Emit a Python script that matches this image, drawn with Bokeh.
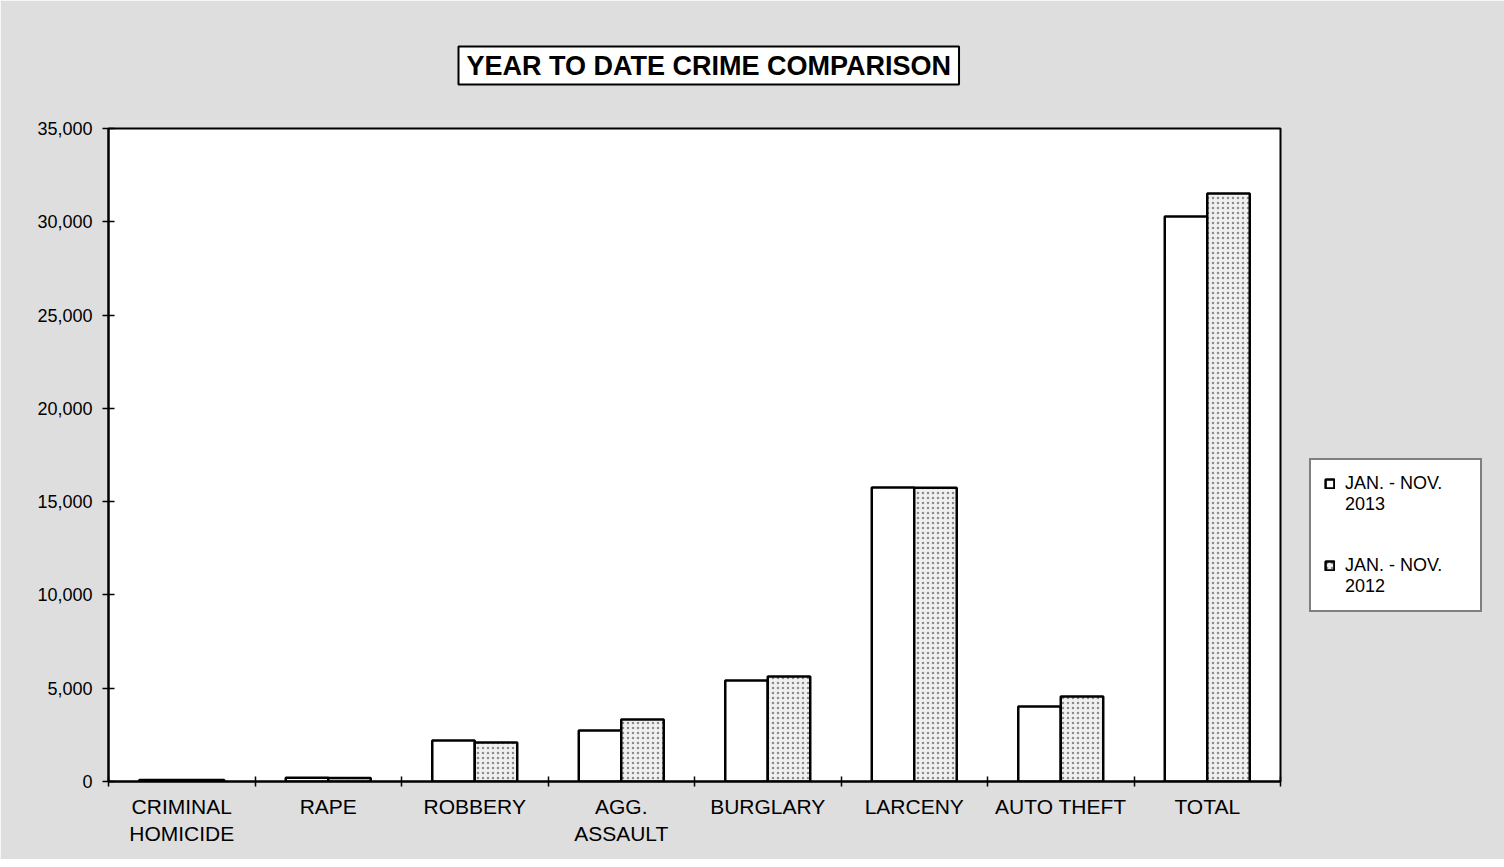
from bokeh.plotting import figure
from bokeh.models import (ColumnDataSource, FixedTicker, NumeralTickFormatter, Legend,
                          LegendItem, Range1d, LinearAxis)
from bokeh.embed import file_html
from bokeh.resources import INLINE

categories = ["CRIMINAL\nHOMICIDE", "RAPE", "ROBBERY", "AGG.\nASSAULT",
              "BURGLARY", "LARCENY", "AUTO THEFT", "TOTAL"]
ytd_2013 = [75, 200, 2200, 2730, 5410, 15760, 4020, 30280]
ytd_2012 = [80, 190, 2090, 3320, 5630, 15750, 4560, 31520]
series_period = "JAN. - NOV."
series_years = ["2013", "2012"]
y_ticks = [0, 5000, 10000, 15000, 20000, 25000, 30000, 35000]
title_text = "YEAR TO DATE CRIME COMPARISON"

FONT = "Liberation Sans"
BG = "#dedede"
BAR_W = 0.29

n = len(categories)
centers = [i + 0.5 for i in range(n)]
src13 = ColumnDataSource(dict(x=[c - BAR_W / 2 for c in centers], top=ytd_2013))
src12 = ColumnDataSource(dict(x=[c + BAR_W / 2 for c in centers], top=ytd_2012))

p = figure(frame_width=1172, frame_height=653, output_backend="svg", toolbar_location=None,
           x_range=Range1d(0, n), y_range=Range1d(0, 35000),
           min_border_left=108, min_border_right=216, min_border_top=128, min_border_bottom=78,
           x_axis_type=None, y_axis_type=None, title=title_text)
p.border_fill_color = BG
p.background_fill_color = "white"
p.outline_line_color = "black"
p.outline_line_width = 2
p.xgrid.visible = False
p.ygrid.visible = False

# boxed title
p.title.text_font = FONT
p.title.text_font_size = "27px"
p.title.text_font_style = "bold"
p.title.text_color = "black"
p.title.align = "left"
p.title.offset = 350
p.title.standoff = 88
p.title.background_fill_color = "white"
p.title.border_line_color = "black"
p.title.border_line_width = 2
p.title.padding = (8, 4)

r13 = p.vbar(x="x", top="top", width=BAR_W, source=src13, fill_color="white",
             line_color="black", line_width=2.5)
r12 = p.vbar(x="x", top="top", width=BAR_W, source=src12, fill_color="#f0f0f0",
             line_color="black", line_width=2.5, hatch_pattern="dot",
             hatch_color="#8c8c8c", hatch_scale=5, hatch_weight=1)
# blank renderer used only for the wrapped lines of the legend
blank = p.vbar(x=[], top=[], width=BAR_W, fill_alpha=0, line_alpha=0)

# y axis
yax = LinearAxis(ticker=FixedTicker(ticks=y_ticks), formatter=NumeralTickFormatter(format="0,0"))
yax.axis_line_color = "black"
yax.axis_line_width = 2
yax.major_tick_in = 6
yax.major_tick_out = 6
yax.major_tick_line_width = 1.5
yax.minor_tick_line_color = None
yax.major_label_text_font = FONT
yax.major_label_text_font_size = "18px"
yax.major_label_text_color = "black"
yax.major_label_standoff = 10
p.add_layout(yax, "left")

# x axis: labels at category centres, tick marks at category boundaries
xax = LinearAxis(ticker=FixedTicker(ticks=centers, minor_ticks=list(range(n + 1))))
xax.major_label_overrides = {c: lab for c, lab in zip(centers, categories)}
xax.axis_line_color = "black"
xax.axis_line_width = 2
xax.major_tick_in = 0
xax.major_tick_out = 0
xax.minor_tick_in = 5
xax.minor_tick_out = 5
xax.minor_tick_line_color = "black"
xax.minor_tick_line_width = 1.5
xax.major_label_text_font = FONT
xax.major_label_text_font_size = "21px"
xax.major_label_text_color = "black"
xax.major_label_standoff = 8
p.add_layout(xax, "below")

legend = Legend(items=[LegendItem(label=series_period, renderers=[r13]),
                       LegendItem(label=series_years[0], renderers=[blank]),
                       LegendItem(label=" ", renderers=[blank]),
                       LegendItem(label=" ", renderers=[blank]),
                       LegendItem(label=series_period, renderers=[r12]),
                       LegendItem(label=series_years[1], renderers=[blank])],
                location=(29, 169), orientation="vertical")
legend.label_text_font = FONT
legend.label_text_font_size = "18px"
legend.label_text_color = "black"
legend.label_height = 20
legend.label_width = 122
legend.glyph_width = 11
legend.glyph_height = 11
legend.label_standoff = 10
legend.padding = 13
legend.spacing = 0
legend.margin = 0
legend.border_line_color = "black"
legend.border_line_width = 2
legend.background_fill_color = "white"
legend.background_fill_alpha = 1
p.add_layout(legend, "right")

open("out.html", "w").write(file_html(p, INLINE))
